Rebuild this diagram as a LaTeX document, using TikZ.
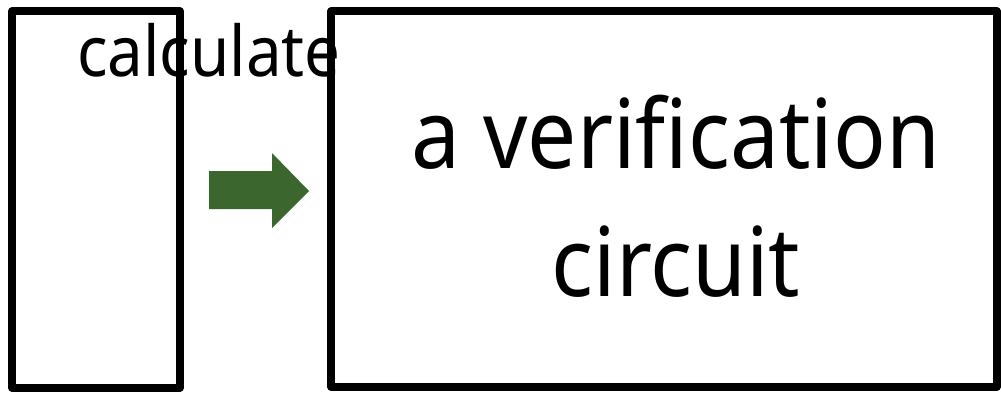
\documentclass[tikz,border=0pt]{standalone}
\usepackage{fontspec}
\setmainfont{Noto Sans}[FakeStretch=0.91]
\definecolor{arrowgreen}{HTML}{3B662D}
\begin{document}
\begin{tikzpicture}[x=0.5pt,y=-0.5pt,
  boxstyle/.style={draw=black,line width=3.6pt,line join=round},
  bigtext/.style={font=\fontsize{48}{64}\selectfont,align=center,inner sep=0pt},
  smalltext/.style={font=\fontsize{35}{42}\selectfont,inner sep=0pt}]
\useasboundingbox (0,0) rectangle (1001,392);
\draw[boxstyle] (12,11) rectangle (180,388);
\draw[boxstyle] (331,11) rectangle (997,387);
\fill[arrowgreen] (209,171) -- (272,171) -- (272,153) -- (309,191) -- (272,228) -- (272,209) -- (209,209) -- cycle;
\node[smalltext,anchor=base] (calc) at (209,76) {calculate};
\node[bigtext,anchor=base] (l1) at (676,168) {a verification};
\node[bigtext,anchor=base] (l2) at (676,296) {circuit};
\end{tikzpicture}
\end{document}
